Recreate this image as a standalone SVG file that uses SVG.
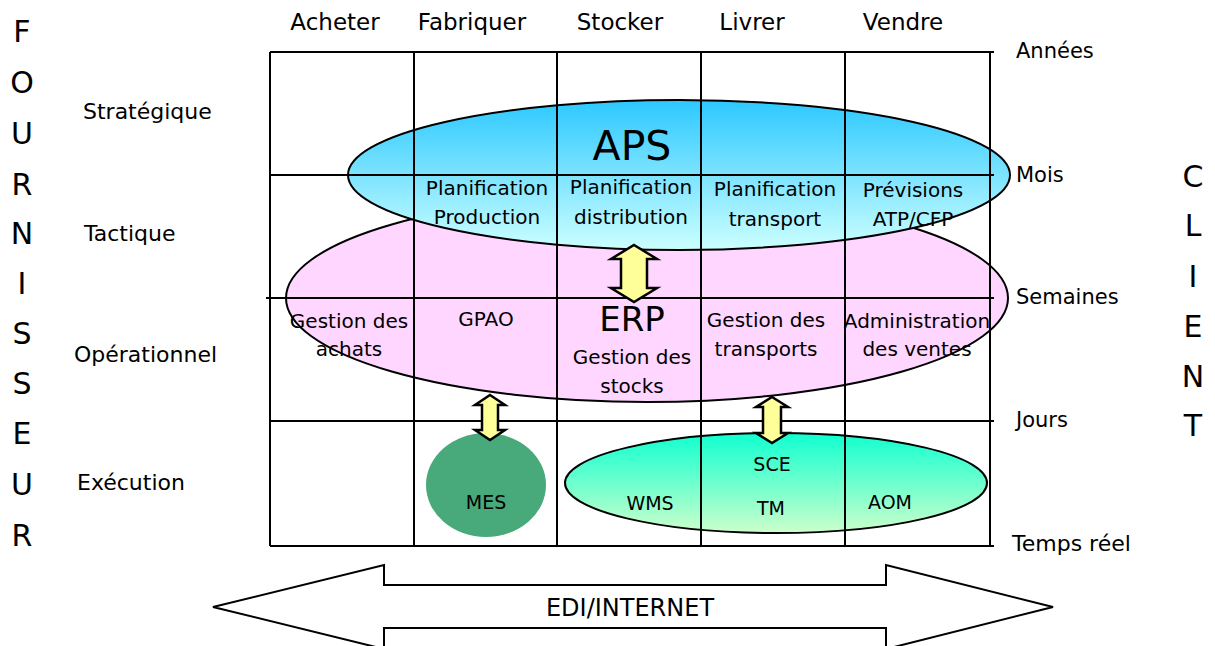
<svg xmlns="http://www.w3.org/2000/svg" width="1215" height="646" viewBox="0 0 1215 646">
<style>
text{font-family:"DejaVu Sans","Liberation Sans",sans-serif;fill:#000}
.hdr{font-size:23px;text-anchor:middle}
.lbl{font-size:22px}
.tim{font-size:21px}
.cell{font-size:20px;text-anchor:middle}
.sm{font-size:19px;text-anchor:middle}
.big{font-size:30px;text-anchor:middle}
.grid line{stroke:#000;stroke-width:2}
.dbl{fill:#FFFF99;stroke:#000;stroke-width:2.5;stroke-linejoin:miter}
</style>
<defs>
<linearGradient id="gAps" x1="0" y1="0" x2="0" y2="1">
<stop offset="0" stop-color="#2DC8FF"/>
<stop offset="1" stop-color="#CCFFFF"/>
</linearGradient>
<linearGradient id="gSce" x1="0" y1="0" x2="0" y2="1">
<stop offset="0" stop-color="#10FFD0"/>
<stop offset="1" stop-color="#CCFFCC"/>
</linearGradient>
</defs>
<rect width="1215" height="646" fill="#fff"/>

<g id="erp">
<ellipse cx="647" cy="298" rx="361" ry="104" fill="#FFD6FF" stroke="#000" stroke-width="2"/>
</g>
<g id="aps">
<ellipse cx="679" cy="175" rx="331" ry="75" fill="url(#gAps)" stroke="#000" stroke-width="2"/>
</g>
<g id="sce">
<ellipse cx="776" cy="483" rx="211" ry="50" fill="url(#gSce)" stroke="#000" stroke-width="2"/>
</g>
<g id="mes">
<ellipse cx="486" cy="485" rx="60" ry="52" fill="#48A97A"/>
</g>

<g id="grid" class="grid">
<line x1="270" y1="52" x2="994" y2="52"/>
<line x1="270" y1="175" x2="994" y2="175"/>
<line x1="266" y1="298" x2="994" y2="298"/>
<line x1="270" y1="421" x2="994" y2="421"/>
<line x1="270" y1="546" x2="994" y2="546"/>
<line x1="270" y1="52" x2="270" y2="546"/>
<line x1="414" y1="52" x2="414" y2="546"/>
<line x1="557" y1="52" x2="557" y2="546"/>
<line x1="701" y1="52" x2="701" y2="546"/>
<line x1="845" y1="52" x2="845" y2="546"/>
<line x1="990" y1="52" x2="990" y2="546"/>
</g>

<g id="connectors">
<path class="dbl" d="M634,245 L657,259 L647,259 L647,288 L657,288 L634,302 L611,288 L621,288 L621,259 L611,259 Z"/>
<path class="dbl" d="M490,395 L505,405 L498,405 L498,430 L505,430 L490,440 L475,430 L482,430 L482,405 L475,405 Z"/>
<path class="dbl" d="M772,397 L788,407 L781,407 L781,433 L788,433 L772,443 L756,433 L763,433 L763,407 L756,407 Z"/>
<path d="M213,607 L384,565 L384,585 L886,585 L886,565 L1053,607 L886,649 L886,628 L384,628 L384,649 Z" fill="#fff" stroke="#000" stroke-width="2"/>
</g>

<g id="headers" class="hdr">
<text x="335" y="30">Acheter</text>
<text x="472" y="30">Fabriquer</text>
<text x="620" y="30">Stocker</text>
<text x="752" y="30">Livrer</text>
<text x="903" y="30">Vendre</text>
</g>

<g id="timescale" class="tim">
<text x="1016" y="58">Années</text>
<text x="1016" y="182">Mois</text>
<text x="1016" y="304">Semaines</text>
<text x="1016" y="427">Jours</text>
<text x="1012" y="551" style="font-size:22px">Temps réel</text>
</g>

<g id="levels" class="lbl">
<text x="83" y="119">Stratégique</text>
<text x="84" y="241">Tactique</text>
<text x="74" y="362">Opérationnel</text>
<text x="77" y="490">Exécution</text>
</g>

<g id="fournisseur" class="big">
<text x="22" y="42">F</text>
<text x="22" y="93">O</text>
<text x="22" y="144">U</text>
<text x="22" y="195">R</text>
<text x="22" y="244">N</text>
<text x="22" y="294">I</text>
<text x="22" y="344">S</text>
<text x="22" y="394">S</text>
<text x="22" y="444">E</text>
<text x="22" y="495">U</text>
<text x="22" y="546">R</text>
</g>

<g id="client" class="big">
<text x="1193" y="187">C</text>
<text x="1193" y="236">L</text>
<text x="1193" y="287">I</text>
<text x="1193" y="337">E</text>
<text x="1193" y="387">N</text>
<text x="1193" y="436">T</text>
</g>

<g id="aps-text">
<text x="632" y="160" style="font-size:41px;text-anchor:middle">APS</text>
<text class="cell" x="487" y="195">Planification</text>
<text class="cell" x="487" y="224">Production</text>
<text class="cell" x="631" y="194">Planification</text>
<text class="cell" x="631" y="224">distribution</text>
<text class="cell" x="775" y="196">Planification</text>
<text class="cell" x="775" y="226">transport</text>
<text class="cell" x="913" y="197">Prévisions</text>
<text class="cell" x="913" y="226">ATP/CFP</text>
</g>

<g id="erp-text">
<text x="632" y="331" style="font-size:34px;text-anchor:middle">ERP</text>
<text class="cell" x="349" y="328">Gestion des</text>
<text class="cell" x="349" y="356">achats</text>
<text class="cell" x="486" y="326">GPAO</text>
<text class="cell" x="632" y="364">Gestion des</text>
<text class="cell" x="632" y="393">stocks</text>
<text class="cell" x="766" y="327">Gestion des</text>
<text class="cell" x="766" y="356">transports</text>
<text class="cell" x="917" y="328">Administration</text>
<text class="cell" x="917" y="356">des ventes</text>
</g>

<g id="exec-text">
<text class="sm" x="486" y="509">MES</text>
<text class="sm" x="772" y="471">SCE</text>
<text class="sm" x="650" y="510">WMS</text>
<text class="sm" x="771" y="515">TM</text>
<text class="sm" x="890" y="509">AOM</text>
</g>

<g id="edi-text">
<text x="630" y="616" style="font-size:24px;text-anchor:middle">EDI/INTERNET</text>
</g>
</svg>
